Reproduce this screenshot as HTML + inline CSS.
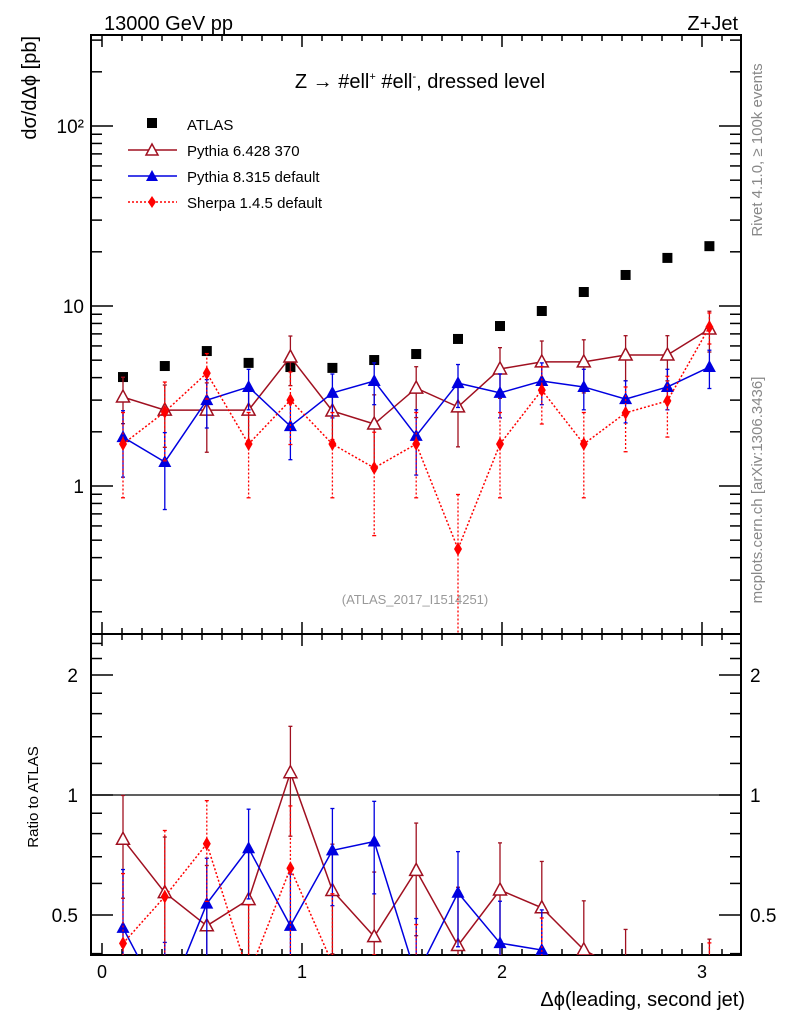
<!DOCTYPE html>
<html><head><meta charset="utf-8"><style>
html,body{margin:0;padding:0;background:#fff;width:786px;height:1024px;overflow:hidden;}
svg{display:block;font-family:"Liberation Sans",sans-serif;}
</style></head><body>
<svg id="chart" width="786" height="1024" viewBox="0 0 786 1024" xmlns="http://www.w3.org/2000/svg">
<text x="104" y="30" font-size="20">13000 GeV pp</text>
<text x="738" y="30" font-size="20" text-anchor="end">Z+Jet</text>
<text x="420" y="88" font-size="20" text-anchor="middle">Z → #ell<tspan font-size="11" dy="-8">+</tspan><tspan dy="8"> #ell</tspan><tspan font-size="11" dy="-8">-</tspan><tspan dy="8">, dressed level</tspan></text>
<text transform="translate(36,36) rotate(-90)" font-size="20" text-anchor="end">dσ/dΔϕ [pb]</text>
<text transform="translate(38,797) rotate(-90)" font-size="15" text-anchor="middle">Ratio to ATLAS</text>
<text x="745" y="1006" font-size="20" text-anchor="end">Δϕ(leading, second jet)</text>
<text transform="translate(762,150) rotate(-90)" font-size="15" fill="#888" text-anchor="middle">Rivet 4.1.0, ≥ 100k events</text>
<text transform="translate(762,490) rotate(-90)" font-size="15" fill="#888" text-anchor="middle">mcplots.cern.ch [arXiv:1306.3436]</text>
<text x="415" y="604" font-size="13" fill="#999" text-anchor="middle">(ATLAS_2017_I1514251)</text>
<g id="legend">
<rect x="147" y="118" width="10" height="10" fill="#000"/>
<text x="187" y="130" font-size="15">ATLAS</text>
<line x1="128" y1="150" x2="177" y2="150" stroke="#a01020" stroke-width="1.5"/>
<path d="M152,144 L158,155 L146,155 Z" fill="#fff" stroke="#a01020" stroke-width="1.5"/>
<text x="187" y="156" font-size="15">Pythia 6.428 370</text>
<line x1="128" y1="176" x2="177" y2="176" stroke="#0000e0" stroke-width="1.5"/>
<path d="M152,170 L158,181 L146,181 Z" fill="#0000e0"/>
<text x="187" y="182" font-size="15">Pythia 8.315 default</text>
<line x1="128" y1="202" x2="177" y2="202" stroke="#f00" stroke-width="1.5" stroke-dasharray="2,2"/>
<path d="M152,196 L156,202 L152,208 L148,202 Z" fill="#f00"/>
<text x="187" y="208" font-size="15">Sherpa 1.4.5 default</text>
</g>
<g id="plot"></g>
</svg>
<script>
const xCenters=[0.105,0.314,0.524,0.733,0.942,1.152,1.361,1.571,1.780,1.990,2.199,2.409,2.618,2.827,3.037];
const atlasVals=[4.03,4.64,5.62,4.83,4.58,4.53,5.01,5.41,6.56,7.74,9.38,11.96,14.87,18.5,21.5];
const py6Vals=[3.12,2.64,2.64,2.64,5.21,2.61,2.21,3.5,2.75,4.47,4.89,4.89,5.34,5.34,7.45];
const py6Errs=[0.9,1.0,1.1,0.9,1.6,0.8,1.0,1.1,1.1,1.4,1.5,1.6,1.5,1.5,1.9];
const py8Vals=[1.87,1.36,3.0,3.55,2.15,3.29,3.83,1.9,3.73,3.29,3.83,3.55,3.04,3.55,4.58];
const py8Errs=[0.75,0.62,0.9,0.9,0.75,0.9,1.0,0.75,1.0,0.9,1.0,0.9,0.8,0.9,1.1];
const shVals=[1.71,2.58,4.24,1.71,3.0,1.71,1.26,1.71,0.447,1.71,3.41,1.71,2.55,2.97,7.65];
const shErrs=[0.85,1.2,1.2,0.85,1.3,0.85,0.73,0.85,0.45,0.85,1.2,0.85,1.0,1.1,1.5];
const xTickLabels=[0,1,2,3];
const mainTickLabels=[[1,"1"],[10,"10"],[100,"10²"]];
const ratioTickLabels=[[0.5,"0.5"],[1,"1"],[2,"2"]];

const NS="http://www.w3.org/2000/svg";
const g=document.getElementById('plot');
const L=91,R=741,T=35,MB=634,RB=955;
const X=v=>102+200*v;
const Y=v=>486-180*Math.log10(v);
const YR=v=>795-398.6*Math.log10(v);
function el(tag,attrs,parent){const e=document.createElementNS(NS,tag);for(const k in attrs)e.setAttribute(k,attrs[k]);(parent||g).appendChild(e);return e;}

const defs=el('defs',{});
const c1=el('clipPath',{id:'cm'},defs);el('rect',{x:L,y:T,width:R-L,height:MB-T},c1);
const c2=el('clipPath',{id:'cr'},defs);el('rect',{x:L,y:MB,width:R-L,height:RB-MB},c2);

let f=el('rect',{x:L,y:T,width:R-L,height:MB-T,fill:'none',stroke:'#000','stroke-width':2});


f=el('rect',{x:L,y:MB,width:R-L,height:RB-MB,fill:'none',stroke:'#000','stroke-width':2});



for(let k=0;k<=32;k++){
  const vv=k/10;const major=(k%10===0);const len=major?12:6;const x=X(vv);
  if(x<L||x>R)continue;
  [T,MB].forEach(y=>el('line',{x1:x,y1:y,x2:x,y2:y+len,stroke:'#000','stroke-width':1.5}));
  [MB,RB].forEach(y=>el('line',{x1:x,y1:y,x2:x,y2:y-len,stroke:'#000','stroke-width':1.5}));
}
xTickLabels.forEach(v=>{const t=el('text',{x:X(v),y:978,'font-size':18,'text-anchor':'middle'});t.textContent=v;

});

for(let d=-1;d<=2;d++)for(let m=1;m<=9;m++){const v=m*Math.pow(10,d);const y=Y(v);if(y<T||y>MB)continue;const len=m==1?22:11;
  el('line',{x1:L,y1:y,x2:L+len,y2:y,stroke:'#000','stroke-width':1.5});el('line',{x1:R,y1:y,x2:R-len,y2:y,stroke:'#000','stroke-width':1.5});}
mainTickLabels.forEach(([v,s])=>{const t=el('text',{x:84,y:Y(v)+7,'font-size':19,'text-anchor':'end'});t.textContent=s;

});

[0.4,0.5,0.6,0.7,0.8,0.9,1,1.2,1.4,1.6,1.8,2,2.2,2.4].forEach(v=>{const y=YR(v);const major=(v==0.5||v==1||v==2);const len=major?22:11;
  el('line',{x1:L,y1:y,x2:L+len,y2:y,stroke:'#000','stroke-width':1.5});el('line',{x1:R,y1:y,x2:R-len,y2:y,stroke:'#000','stroke-width':1.5});});
ratioTickLabels.forEach(([v,s])=>{
  let t=el('text',{x:78,y:YR(v)+7,'font-size':19,'text-anchor':'end'});t.textContent=s;
  
  
  t=el('text',{x:750,y:YR(v)+7,'font-size':19});t.textContent=s;
  
  });
el('line',{x1:L,y1:YR(1),x2:R,y2:YR(1),stroke:'#000','stroke-width':1.2});

function marker(par,x,y,type,col){
  if(type=='sq')return el('rect',{x:x-5,y:y-5,width:10,height:10,fill:col},par);
  if(type=='otri')return el('path',{d:`M${x},${y-7} L${x+6.5},${y+5} L${x-6.5},${y+5} Z`,fill:'#fff',stroke:col,'stroke-width':1.5},par);
  if(type=='tri')return el('path',{d:`M${x},${y-7} L${x+6.5},${y+5} L${x-6.5},${y+5} Z`,fill:col},par);
  return el('path',{d:`M${x},${y-7} L${x+4},${y} L${x},${y+7} L${x-4},${y} Z`,fill:col},par);
}
function series(name,vals,errs,col,type,dash,Yf,clip,div){
  const grp=el('g',{'clip-path':`url(#${clip})`});
  
  
  const v=vals.map((a,i)=>div?a/div[i]:a);
  const e=errs?errs.map((a,i)=>div?a/div[i]:a):null;
  if(type!='sq'){
    const pts=v.map((a,i)=>`${X(xCenters[i])},${Yf(a)}`).join(' ');
    el('polyline',{points:pts,fill:'none',stroke:col,'stroke-width':1.5,'stroke-dasharray':dash||'none'},grp);
  }
  v.forEach((a,i)=>{
    const x=X(xCenters[i]);
    if(e){const lo=Math.max(a-e[i],1e-3),hi=a+e[i];
      el('line',{x1:x,y1:Yf(hi),x2:x,y2:Yf(lo),stroke:col,'stroke-width':1.3,'stroke-dasharray':dash||'none'},grp);
      el('line',{x1:x-2,y1:Yf(hi),x2:x+2,y2:Yf(hi),stroke:col,'stroke-width':1.3},grp);
      el('line',{x1:x-2,y1:Yf(lo),x2:x+2,y2:Yf(lo),stroke:col,'stroke-width':1.3},grp);}
    const m=marker(grp,x,Yf(a),type,col);
    
    
  });
}
series('atlas-data',atlasVals,null,'#000','sq',null,Y,'cm');
series('pythia6-series',py6Vals,py6Errs,'#a01020','otri',null,Y,'cm');
series('pythia8-series',py8Vals,py8Errs,'#0000e0','tri',null,Y,'cm');
series('sherpa-series',shVals,shErrs,'#f00','dia','2,2',Y,'cm');
series('pythia6-ratio',py6Vals,py6Errs,'#a01020','otri',null,YR,'cr',atlasVals);
series('pythia8-ratio',py8Vals,py8Errs,'#0000e0','tri',null,YR,'cr',atlasVals);
series('sherpa-ratio',shVals,shErrs,'#f00','dia','2,2',YR,'cr',atlasVals);
</script>
</body></html>
